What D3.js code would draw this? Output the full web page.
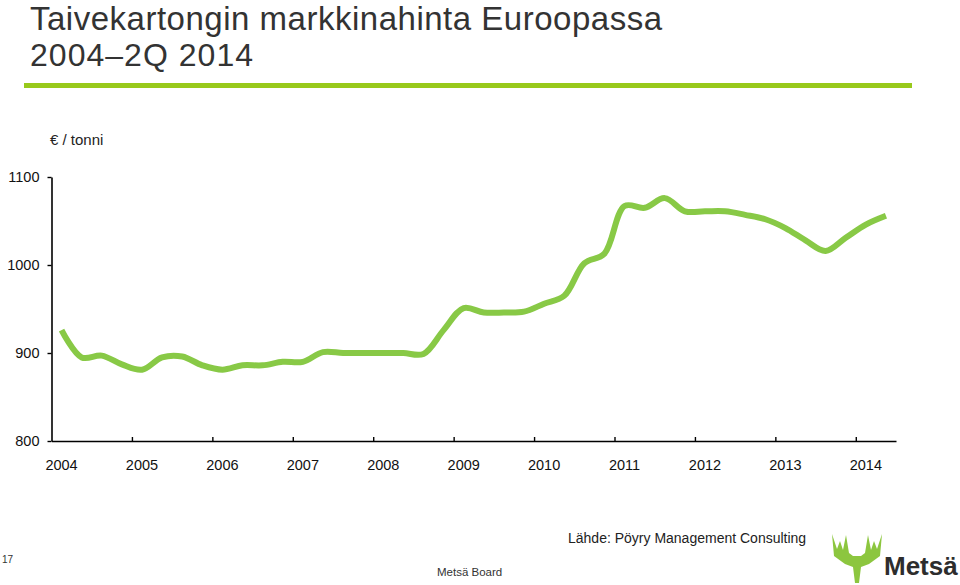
<!DOCTYPE html>
<html lang="fi">
<head>
<meta charset="utf-8">
<title>Taivekartongin markkinahinta Euroopassa</title>
<script src="https://cdn.jsdelivr.net/npm/d3@7"></script>
<style>
  body { margin: 0; background: #fff; }
  svg { display: block; font-family: "Liberation Sans", Arial, Helvetica, sans-serif; }
</style>
</head>
<body>
<script>
// quarterly price, EUR / tonne, 2004 Q1 .. 2014 Q2
var years = [2004, 2005, 2006, 2007, 2008, 2009, 2010, 2011, 2012, 2013, 2014];
var prices = [926, 895, 897, 887, 881, 895, 896, 886, 881, 886,
              886, 890, 890, 901, 900, 900, 900, 900, 899, 926,
              951, 946, 946, 947, 956, 965, 1002, 1013, 1067, 1065,
              1076, 1061, 1061, 1061, 1057, 1052, 1042, 1028, 1016, 1031,
              1046, 1056];
var yTicks = [800, 900, 1000, 1100];

var W = 960, H = 585;
var svg = d3.select("body").append("svg").attr("width", W).attr("height", H);

// title
svg.append("text").attr("x", 30).attr("y", 30)
  .attr("font-size", 33).attr("fill", "#333")
  .attr("textLength", 632).attr("lengthAdjust", "spacing")
  .text("Taivekartongin markkinahinta Euroopassa");
svg.append("text").attr("x", 30).attr("y", 66)
  .attr("font-size", 32).attr("fill", "#333")
  .attr("textLength", 223).attr("lengthAdjust", "spacing")
  .text("2004\u20132Q 2014");
svg.append("rect").attr("x", 24).attr("y", 83).attr("width", 888).attr("height", 5)
  .attr("fill", "#98c91b");

// scales: x in years, each quarter centred in its band
var x = d3.scaleLinear().domain([2004, 2014.5]).range([51.5, 896]);
var y = d3.scaleLinear().domain([800, 1100]).range([441, 177]);

svg.append("text").attr("x", 50).attr("y", 145)
  .attr("font-size", 15).attr("fill", "#222")
  .text("\u20ac / tonni");

// y axis
var yAxis = svg.append("g").attr("transform", "translate(" + x(2004) + ",0)")
  .call(d3.axisLeft(y).tickValues(yTicks).tickFormat(d3.format("d"))
    .tickSize(4).tickSizeOuter(0).tickPadding(8));
yAxis.select(".domain").attr("stroke-width", 1.6);
yAxis.selectAll(".tick line").attr("stroke-width", 1.4);
yAxis.selectAll("text").attr("font-size", 14.5).attr("fill", "#111")
  .style("font-family", "inherit");

// x axis: ticks on year boundaries, labels under first quarter
var xAxis = svg.append("g").attr("transform", "translate(0," + y(800) + ")")
  .call(d3.axisTop(x).tickValues(years.slice(1)).tickFormat("")
    .tickSize(4).tickSizeOuter(0));
xAxis.select(".domain").attr("stroke-width", 1.6);
xAxis.selectAll(".tick line").attr("stroke-width", 1.4);

svg.append("g").selectAll("text").data(years).enter().append("text")
  .attr("x", function(d) { return x(d + 0.125); })
  .attr("y", 470)
  .attr("text-anchor", "middle")
  .attr("font-size", 14.5).attr("fill", "#111")
  .text(function(d) { return d; });

// price line
var line = d3.line()
  .x(function(d, i) { return x(2004 + (i + 0.5) / 4); })
  .y(function(d) { return y(d); })
  .curve(d3.curveCatmullRom.alpha(0.5));

svg.append("path").datum(prices)
  .attr("d", line)
  .attr("fill", "none")
  .attr("stroke", "#88c946")
  .attr("stroke-width", 6)
  .attr("stroke-linejoin", "round");

// footer
svg.append("text").attr("x", 2).attr("y", 563).attr("font-size", 10).attr("fill", "#333").text("17");
svg.append("text").attr("x", 437).attr("y", 576).attr("font-size", 11.5).attr("fill", "#333").text("Mets\u00e4 Board");
svg.append("text").attr("x", 568).attr("y", 543).attr("font-size", 14).attr("fill", "#222")
  .text("L\u00e4hde: P\u00f6yry Management Consulting");

// logo
svg.append("path")
  .attr("d", "M832,534 L837,549 L840,541 L843,550 L846,535 L849,553 L853,556 L861,556 L865,553 L868,535 L871,550 L874,541 L877,549 L882,534 L880,556 L869,564 L861,567 L859,583 L855,583 L853,567 L845,564 L834,556 Z")
  .attr("fill", "#8cc63f");
svg.append("text").attr("x", 884).attr("y", 575)
  .attr("font-size", 26).attr("font-weight", "bold").attr("fill", "#2d2d2d")
  .text("Mets\u00e4");
</script>
</body>
</html>
